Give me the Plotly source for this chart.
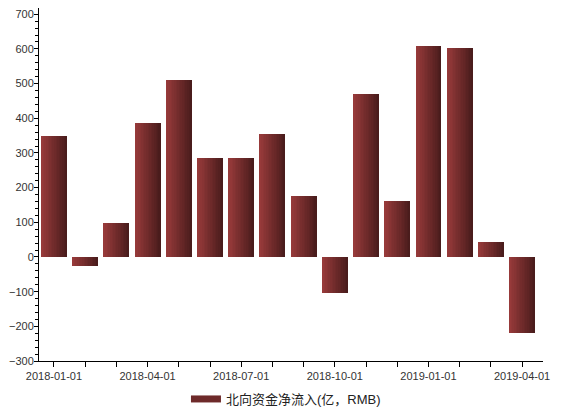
import plotly.graph_objects as go

# monthly northbound net inflow, 100m RMB
months = [
    "2018-01-01", "2018-02-01", "2018-03-01", "2018-04-01",
    "2018-05-01", "2018-06-01", "2018-07-01", "2018-08-01",
    "2018-09-01", "2018-10-01", "2018-11-01", "2018-12-01",
    "2019-01-01", "2019-02-01", "2019-03-01", "2019-04-01",
]
inflow = [350, -26, 97, 385, 510, 284, 284, 354, 175, -104, 469, 160, 607, 604, 42, -219]
tick_labels = [m if i % 3 == 0 else "" for i, m in enumerate(months)]
series_name = "北向资金净流入(亿，RMB)"

# horizontal gradient on bars, faked with thin overlaid slices
left_rgb = (0x97, 0x3a, 0x3a)
right_rgb = (0x4a, 0x1c, 0x1c)
n_slices = 16
bar_w = 0.83
slice_w = bar_w / n_slices

fig = go.Figure()
for i in range(n_slices):
    t = i / (n_slices - 1)
    r, g, b = [round(a + (c - a) * t) for a, c in zip(left_rgb, right_rgb)]
    w = slice_w * (1.25 if i < n_slices - 1 else 1.0)
    fig.add_trace(go.Bar(
        x=months, y=inflow,
        width=w, offset=-bar_w / 2 + i * slice_w,
        marker=dict(color=f"rgb({r},{g},{b})", line=dict(width=0)),
        showlegend=False, hoverinfo="skip" if i else "x+y",
    ))

# legend entry (wide swatch like the original)
fig.add_trace(go.Scatter(
    x=[None], y=[None], mode="lines", name=series_name,
    line=dict(color="#6e2a2a", width=7),
))

# page body has an 8px margin, so the figure is 8px smaller than the window
fig.update_layout(
    width=569, height=406,
    margin=dict(l=31, r=34, t=0, b=53),
    barmode="overlay", bargap=0,
    plot_bgcolor="white", paper_bgcolor="white",
    font=dict(family="Liberation Sans, Arial, Noto Sans CJK SC", size=11, color="#333"),
    legend=dict(
        orientation="h", x=0.49, xanchor="center", y=-0.108, yanchor="middle",
        font=dict(family="Liberation Sans, Noto Sans CJK SC", size=13, color="#222"),
        itemwidth=30,
    ),
)
fig.update_xaxes(
    type="category", range=[-0.48, 15.67], automargin=False,
    tickvals=months, ticktext=tick_labels,
    ticks="outside", ticklen=5, tickcolor="black",
    showline=True, linecolor="black", linewidth=1,
    showgrid=False,
)
fig.update_yaxes(
    range=[-300, 718], dtick=100, tick0=0, automargin=False,
    ticks="outside", ticklen=4, tickcolor="black", ticklabelstandoff=-2,
    minor=dict(dtick=20, ticks="outside", ticklen=3, tickcolor="black", showgrid=False),
    showline=True, linecolor="black", linewidth=1,
    showgrid=False, zeroline=False,
)

fig.write_html("out.html")
